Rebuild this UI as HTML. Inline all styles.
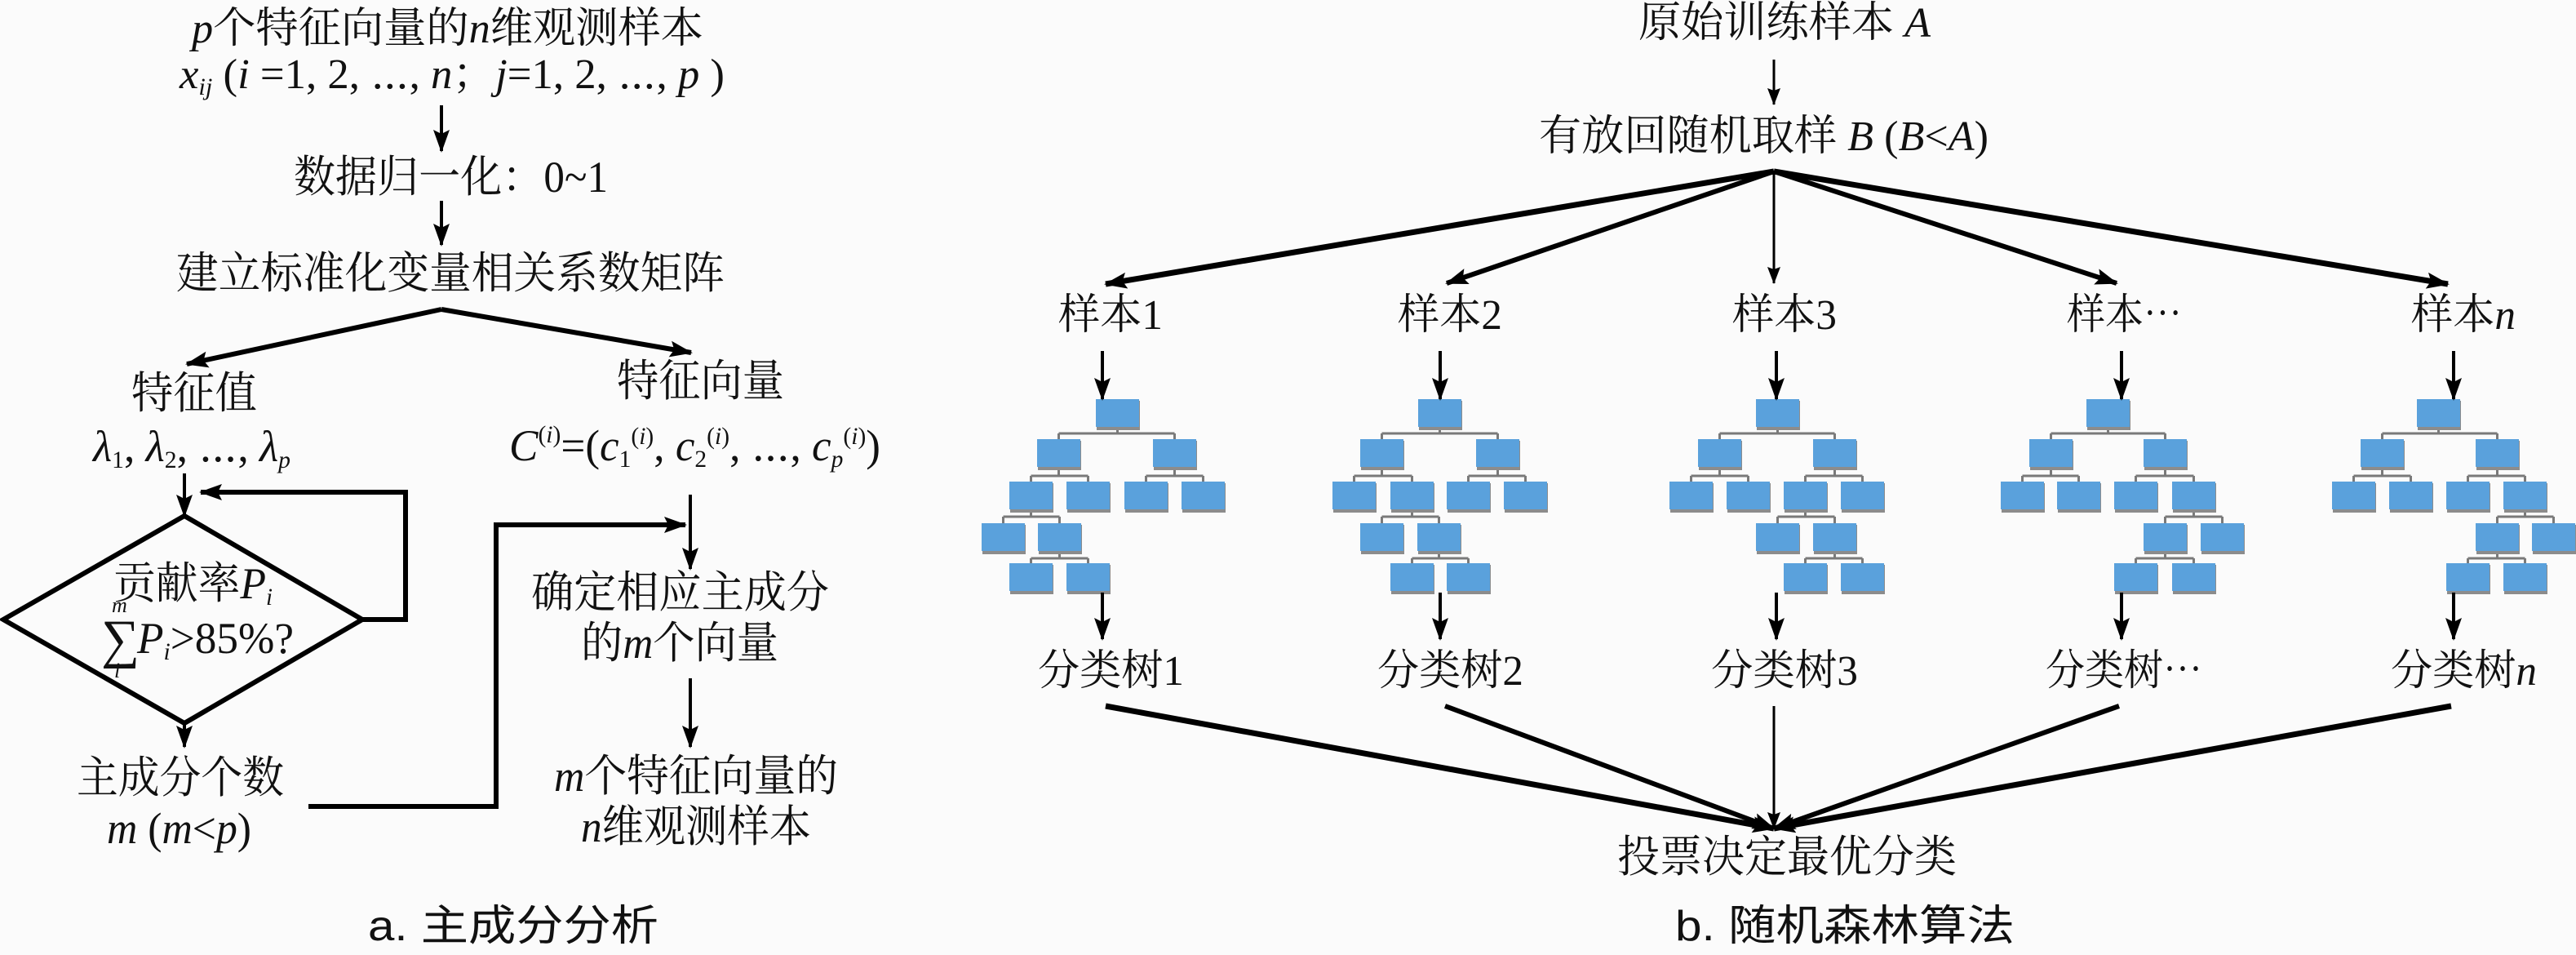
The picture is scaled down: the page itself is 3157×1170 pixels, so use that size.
<!DOCTYPE html>
<html><head><meta charset="utf-8"><style>
html,body{margin:0;padding:0;background:#fbfbfb}
svg{display:block}
.t{font-family:"Liberation Serif","Noto Serif CJK SC",serif;fill:#111}
.s{font-family:"Liberation Sans","Noto Sans CJK SC",sans-serif;fill:#111}
.i{font-style:italic}
</style></head><body>
<svg id="g" width="3157" height="1170" viewBox="0 0 3157 1170" xmlns="http://www.w3.org/2000/svg">
<defs>
<marker id="ah" markerUnits="userSpaceOnUse" markerWidth="30" markerHeight="22" refX="26" refY="10" orient="auto"><path d="M0,0 L28,10 L0,20 L5,10 z" fill="#000"/></marker>
<marker id="as" markerUnits="userSpaceOnUse" markerWidth="22" markerHeight="18" refX="20" refY="8" orient="auto"><path d="M0,0 L21,8 L0,16 L3,8 z" fill="#000"/></marker>
</defs>
<rect width="3157" height="1170" fill="#fbfbfb"/>

<!-- LEFT: PCA -->
<g stroke="#000" fill="none">
<line x1="541" y1="129" x2="541" y2="185" stroke-width="4" marker-end="url(#ah)"/>
<line x1="541" y1="246" x2="541" y2="300" stroke-width="4" marker-end="url(#ah)"/>
<path d="M541,379 L229,446" stroke-width="6" marker-end="url(#ah)"/>
<path d="M541,379 L847,432" stroke-width="6" marker-end="url(#ah)"/>
<line x1="226" y1="580" x2="226" y2="632" stroke-width="4" marker-end="url(#ah)"/>
<polygon points="226,632 444,759 226,886 4,759" stroke-width="6" stroke-linejoin="miter"/>
<path d="M444,759 H497 V603 H246" stroke-width="6" marker-end="url(#ah)"/>
<line x1="226" y1="886" x2="226" y2="915" stroke-width="4" marker-end="url(#ah)"/>
<path d="M378,988 H608 V643 H840" stroke-width="6" marker-end="url(#ah)"/>
<line x1="846" y1="606" x2="846" y2="697" stroke-width="4" marker-end="url(#ah)"/>
<line x1="846" y1="831" x2="846" y2="915" stroke-width="4" marker-end="url(#ah)"/>
</g>

<text class="t" x="235" y="52" font-size="52" textLength="627" lengthAdjust="spacingAndGlyphs"><tspan class="i">p</tspan>个特征向量的<tspan class="i">n</tspan>维观测样本</text>
<text class="t" x="220" y="108" font-size="52" textLength="668" lengthAdjust="spacingAndGlyphs"><tspan class="i">x</tspan><tspan class="i" font-size="30" dy="8">ij</tspan><tspan dy="-8"> (</tspan><tspan class="i">i</tspan> =1, 2, ⋯, <tspan class="i">n</tspan>；<tspan class="i">j</tspan>=1, 2, ⋯, <tspan class="i">p</tspan> )</text>
<text class="t" x="360" y="235" font-size="54" textLength="385" lengthAdjust="spacingAndGlyphs">数据归一化：0~1</text>
<text class="t" x="216" y="353" font-size="54" textLength="672" lengthAdjust="spacingAndGlyphs">建立标准化变量相关系数矩阵</text>
<text class="t" x="161" y="500" font-size="54" textLength="154" lengthAdjust="spacingAndGlyphs">特征值</text>
<text class="t" x="756" y="485" font-size="54" textLength="205" lengthAdjust="spacingAndGlyphs">特征向量</text>
<text class="t" x="114" y="565" font-size="54" textLength="242" lengthAdjust="spacingAndGlyphs"><tspan class="i">λ</tspan><tspan font-size="30" dy="8">1</tspan><tspan dy="-8">, </tspan><tspan class="i">λ</tspan><tspan font-size="30" dy="8">2</tspan><tspan dy="-8">, ⋯, </tspan><tspan class="i">λ</tspan><tspan class="i" font-size="30" dy="8">p</tspan></text>
<text class="t" x="624" y="564" font-size="54" textLength="455" lengthAdjust="spacingAndGlyphs"><tspan class="i">C</tspan><tspan font-size="30" dy="-22">(<tspan class="i">i</tspan>)</tspan><tspan dy="22">=(</tspan><tspan class="i">c</tspan><tspan font-size="30" dy="8">1</tspan><tspan font-size="30" dy="-28">(<tspan class="i">i</tspan>)</tspan><tspan dy="20">, </tspan><tspan class="i">c</tspan><tspan font-size="30" dy="8">2</tspan><tspan font-size="30" dy="-28">(<tspan class="i">i</tspan>)</tspan><tspan dy="20">, ⋯, </tspan><tspan class="i">c</tspan><tspan class="i" font-size="30" dy="8">p</tspan><tspan font-size="30" dy="-28">(<tspan class="i">i</tspan>)</tspan><tspan dy="20">)</tspan></text>
<text class="t" x="139" y="733" font-size="54" textLength="195" lengthAdjust="spacingAndGlyphs">贡献率<tspan class="i">P</tspan><tspan class="i" font-size="30" dy="8">i</tspan></text>
<text class="t i" x="137" y="750" font-size="26">m</text>
<text class="t" x="124" y="805" font-size="66">∑</text>
<text class="t i" x="140" y="830" font-size="26">i</text>
<text class="t" x="168" y="800" font-size="54" textLength="192" lengthAdjust="spacingAndGlyphs"><tspan class="i">P</tspan><tspan class="i" font-size="30" dy="8">i</tspan><tspan dy="-8">&gt;85%?</tspan></text>
<text class="t" x="94" y="971" font-size="54" textLength="254" lengthAdjust="spacingAndGlyphs">主成分个数</text>
<text class="t" x="131" y="1033" font-size="54" textLength="177" lengthAdjust="spacingAndGlyphs"><tspan class="i">m</tspan> (<tspan class="i">m</tspan>&lt;<tspan class="i">p</tspan>)</text>
<text class="t" x="651" y="744" font-size="54" textLength="365" lengthAdjust="spacingAndGlyphs">确定相应主成分</text>
<text class="t" x="712" y="806" font-size="54" textLength="242" lengthAdjust="spacingAndGlyphs">的<tspan class="i">m</tspan>个向量</text>
<text class="t" x="679" y="969" font-size="54" textLength="348" lengthAdjust="spacingAndGlyphs"><tspan class="i">m</tspan>个特征向量的</text>
<text class="t" x="712" y="1031" font-size="54" textLength="282" lengthAdjust="spacingAndGlyphs"><tspan class="i">n</tspan>维观测样本</text>
<text class="s" x="451" y="1152" font-size="52" textLength="356" lengthAdjust="spacingAndGlyphs">a.  主成分分析</text>

<!-- RIGHT: Random forest -->
<g stroke="#000" fill="none">
<line x1="2174" y1="73" x2="2174" y2="128" stroke-width="3" marker-end="url(#as)"/>
<line x1="2174" y1="210" x2="1355" y2="348" stroke-width="7" marker-end="url(#ah)"/>
<line x1="2174" y1="210" x2="1773" y2="347" stroke-width="6" marker-end="url(#ah)"/>
<line x1="2174" y1="210" x2="2174" y2="347" stroke-width="3" marker-end="url(#as)"/>
<line x1="2174" y1="210" x2="2594" y2="347" stroke-width="6" marker-end="url(#ah)"/>
<line x1="2174" y1="210" x2="3000" y2="348" stroke-width="7" marker-end="url(#ah)"/>
<line x1="1355" y1="865" x2="2174" y2="1015" stroke-width="7" marker-end="url(#ah)"/>
<line x1="1771" y1="865" x2="2174" y2="1015" stroke-width="6" marker-end="url(#ah)"/>
<line x1="2174" y1="865" x2="2174" y2="1015" stroke-width="3" marker-end="url(#as)"/>
<line x1="2597" y1="865" x2="2174" y2="1015" stroke-width="6" marker-end="url(#ah)"/>
<line x1="3004" y1="865" x2="2174" y2="1015" stroke-width="7" marker-end="url(#ah)"/>
</g>
<text class="t" x="2008" y="45" font-size="52" textLength="358" lengthAdjust="spacingAndGlyphs">原始训练样本 <tspan class="i">A</tspan></text>
<text class="t" x="1886" y="184" font-size="52" textLength="551" lengthAdjust="spacingAndGlyphs">有放回随机取样 <tspan class="i">B</tspan> (<tspan class="i">B</tspan>&lt;<tspan class="i">A</tspan>)</text>
<g class="t" font-size="52">
<text x="1297" y="403" textLength="128" lengthAdjust="spacingAndGlyphs" class="t">样本1</text>
<text x="1713" y="403" textLength="128" lengthAdjust="spacingAndGlyphs" class="t">样本2</text>
<text x="2123" y="403" textLength="128" lengthAdjust="spacingAndGlyphs" class="t">样本3</text>
<text x="2533" y="403" textLength="141" lengthAdjust="spacingAndGlyphs" class="t">样本⋯</text>
<text x="2955" y="403" textLength="128" lengthAdjust="spacingAndGlyphs" class="t">样本<tspan class="i">n</tspan></text>
<text x="1272" y="839" textLength="179" lengthAdjust="spacingAndGlyphs" class="t">分类树1</text>
<text x="1688" y="839" textLength="179" lengthAdjust="spacingAndGlyphs" class="t">分类树2</text>
<text x="2097" y="839" textLength="180" lengthAdjust="spacingAndGlyphs" class="t">分类树3</text>
<text x="2507" y="839" textLength="192" lengthAdjust="spacingAndGlyphs" class="t">分类树⋯</text>
<text x="2930" y="839" textLength="179" lengthAdjust="spacingAndGlyphs" class="t">分类树<tspan class="i">n</tspan></text>
</g>
<text class="t" x="1982" y="1068" font-size="54" textLength="416" lengthAdjust="spacingAndGlyphs">投票决定最优分类</text>
<text class="s" x="2053" y="1152" font-size="52" textLength="416" lengthAdjust="spacingAndGlyphs">b.  随机森林算法</text>
<g id="trees"></g>
</svg>
<script>
(function(){
var NS="http://www.w3.org/2000/svg",g=document.getElementById("trees");
var W=53,H=36,Y=[489,538,590,641,690],M=[531,583,633,684];
var T=[
 {r:1343,l2:[1271,1413],l3:[1237,1307,1378,1448],p4:1237,l4:[1203,1272],p5:1272,l5:[1237,1307],a:1351},
 {r:1738,l2:[1667,1809],l3:[1633,1704,1773,1843],p4:1704,l4:[1667,1737],p5:1737,l5:[1704,1773],a:1765},
 {r:2152,l2:[2081,2222],l3:[2046,2116,2186,2256],p4:2186,l4:[2152,2222],p5:2222,l5:[2186,2256],a:2177},
 {r:2557,l2:[2487,2627],l3:[2452,2521,2591,2662],p4:2662,l4:[2627,2697],p5:2627,l5:[2591,2662],a:2600},
 {r:2962,l2:[2893,3034],l3:[2858,2928,2998,3068],p4:3068,l4:[3034,3103],p5:3034,l5:[2998,3068],a:3007}];
function el(n,a){var e=document.createElementNS(NS,n);for(var k in a)e.setAttribute(k,a[k]);g.appendChild(e);return e;}
function box(x,y){el("rect",{x:x+1,y:y+2,width:W,height:H,fill:"#8c8c8c"});el("rect",{x:x,y:y,width:W,height:H-2,fill:"#5aa1dc"});}
function con(px,py,cs,cy,my){var pc=px+W/2,d="M"+pc+","+(py+H)+"V"+my;var a=cs[0]+W/2,b=cs[1]+W/2;d+="M"+a+","+my+"H"+b+"M"+a+","+my+"V"+cy+"M"+b+","+my+"V"+cy;el("path",{d:d,stroke:"#7a7a7a","stroke-width":3,fill:"none"});}
T.forEach(function(t){
 con(t.r,Y[0],t.l2,Y[1],M[0]);
 con(t.l2[0],Y[1],[t.l3[0],t.l3[1]],Y[2],M[1]);
 con(t.l2[1],Y[1],[t.l3[2],t.l3[3]],Y[2],M[1]);
 con(t.p4,Y[2],t.l4,Y[3],M[2]);
 con(t.p5,Y[3],t.l5,Y[4],M[3]);
 box(t.r,Y[0]);t.l2.forEach(function(x){box(x,Y[1])});t.l3.forEach(function(x){box(x,Y[2])});
 t.l4.forEach(function(x){box(x,Y[3])});t.l5.forEach(function(x){box(x,Y[4])});
 el("line",{x1:t.a,y1:430,x2:t.a,y2:489,stroke:"#000","stroke-width":4,"marker-end":"url(#ah)"});
 el("line",{x1:t.a,y1:726,x2:t.a,y2:783,stroke:"#000","stroke-width":4,"marker-end":"url(#ah)"});
});
})();
</script>
</body></html>
